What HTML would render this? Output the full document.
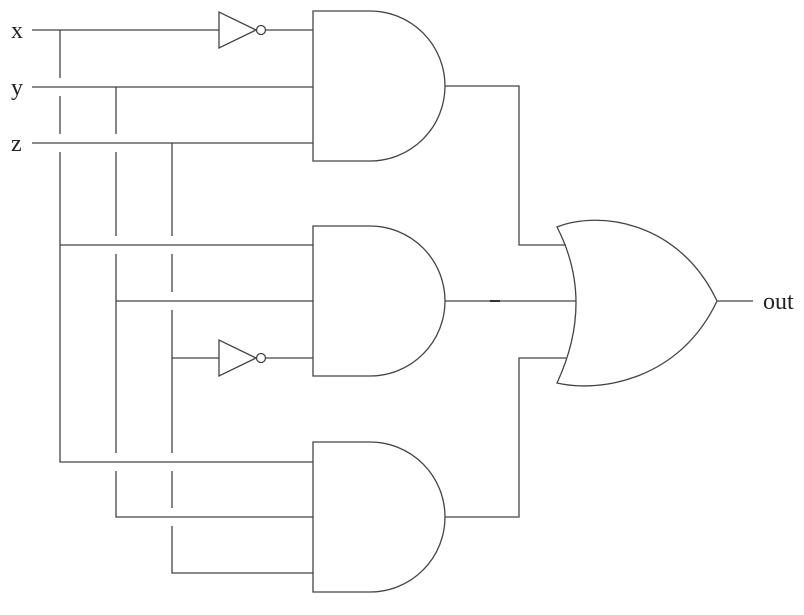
<!DOCTYPE html>
<html><head><style>html,body{margin:0;background:#fff}svg{display:block}</style></head><body>
<svg width="804" height="615" viewBox="0 0 804 615" xmlns="http://www.w3.org/2000/svg">
<g stroke="#444" stroke-width="1.3" fill="none">
<path d="M32 30H219M32 87H313M32 143H313"/>
<path d="M60 30V78M60 96V134M60 152V462H313"/>
<path d="M116 87V134M116 152V236M116 254V453M116 471V517H313M116 301H313"/>
<path d="M172 143V236M172 254V292M172 310V453M172 471V508M172 526V573H313M172 358H219"/>
<path d="M60 245H313"/>
<path d="M219 12V48L256 30Z"/>
<circle cx="261" cy="30" r="4.5"/>
<path d="M265.5 30H313"/>
<path d="M219 340V376L256 358Z"/>
<circle cx="261" cy="358" r="4.5"/>
<path d="M265.5 358H313"/>
<path d="M313 11H370A75 75 0 0 1 370 161H313Z"/>
<path d="M313 226H370A75 75 0 0 1 370 376H313Z"/>
<path d="M313 442H370A75 75 0 0 1 370 592H313Z"/>
<path d="M445 86H519V245H566"/>
<path d="M445 301H576"/>
<path d="M445 517H519V358H566"/>
<path d="M557 227Q595 301 557 383C600 393 680 380 717 301C680 222 600 210 557 227Z"/>
<path d="M717 301H753"/>
</g>
<path d="M490 301H500" stroke="#333" stroke-width="2"/>
<g font-family="Liberation Serif, serif" font-size="24" fill="#222">
<text x="11" y="38">x</text>
<text x="11" y="95">y</text>
<text x="11" y="151">z</text>
<text x="763" y="309">out</text>
</g>
</svg>
</body></html>
